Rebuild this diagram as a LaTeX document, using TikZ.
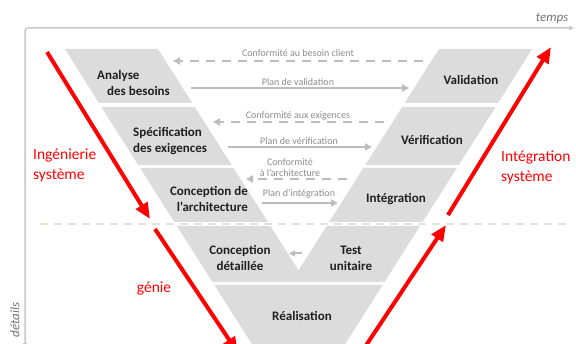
\documentclass[tikz,border=0pt]{standalone}
\usepackage{fontspec}
\setmainfont{Carlito}
\usetikzlibrary{arrows.meta}
\definecolor{blockgray}{HTML}{DCDCDC}
\definecolor{arrowgray}{HTML}{BDBDBD}
\definecolor{notegray}{HTML}{8C8C8C}
\definecolor{axisgray}{HTML}{C8C8C8}
\definecolor{sepgray}{HTML}{E4E4D6}
\definecolor{vred}{HTML}{FF0000}
\tikzset{
  blk/.style={fill=blockgray, draw=none},
  lbl/.style={font=\bfseries\fontsize{13}{16}\selectfont, text=black!88, inner sep=0pt},
  note/.style={font=\fontsize{10}{11}\selectfont, text=notegray, inner sep=0pt, align=center},
  garrow/.style={draw=arrowgray, line width=2pt, -{Triangle[length=7pt,width=7pt]}},
  gdash/.style={garrow, dash pattern=on 9pt off 7pt},
  redarrow/.style={draw=vred, line width=4pt, -{Triangle[length=16pt,width=13pt]}},
  redtxt/.style={text=vred, font=\fontsize{15.5}{20}\selectfont, align=left, inner sep=0pt},
  axistxt/.style={text=black!55, font=\itshape\fontsize{13}{15}\selectfont, inner sep=0pt},
  axisline/.style={draw=axisgray, line width=1.5pt}
}
\begin{document}
\begin{tikzpicture}[x=1pt,y=-1pt]
\useasboundingbox (0,0) rectangle (576,344);
\begin{scope}
\clip (0,0) rectangle (576,344);
% axes
\coordinate (axb) at (25,349);
\coordinate (axc) at (25,28);
\coordinate (axe) at (575,28);
\draw[axisline, rounded corners=3pt, {Latex[length=6pt,width=5pt]}-{Latex[length=6pt,width=5pt]}] (axb) -- (axc) -- (axe);
\node[axistxt] (temps) at (552,18) {temps};
\node[axistxt, rotate=90] (details) at (15,320) {détails};

% left bands
\fill[blk] (65,49) -- (158,49) -- (192.3,103) -- (98.8,103) -- cycle;
\fill[blk] (101.3,107) -- (194.8,107) -- (231.7,165) -- (138.2,165) -- cycle;
\fill[blk] (140.1,168) -- (233.6,168) -- (267.9,222) -- (174.4,222) -- cycle;
% right bands
\fill[blk] (439,49) -- (532,49) -- (498.2,103) -- (404.7,103) -- cycle;
\fill[blk] (402.2,107) -- (495.7,107) -- (458.8,165) -- (365.3,165) -- cycle;
\fill[blk] (363.4,168) -- (456.9,168) -- (422.6,222) -- (329.1,222) -- cycle;
% V bottom band
\fill[blk] (176.9,226) -- (270.4,226) -- (298.5,270.3) -- (326.6,226) -- (420.1,226) -- (384.5,282) -- (212.5,282) -- cycle;
% bottom band
\fill[blk] (214.4,285) -- (382.6,285) -- (335,360) -- (262,360) -- cycle;

% separator
\coordinate (sepl) at (40,224);
\coordinate (sepr) at (570,224);
\draw[sepgray, line width=1.5pt, dash pattern=on 8pt off 6pt] (sepl) -- (sepr);

% block labels
\node[lbl, anchor=west, align=left] (ana) at (97,83) {Analyse\\\hspace*{10pt}des besoins};
\node[lbl, anchor=west, align=left] (spec) at (133,141.5) {Spécification\\des exigences};
\node[lbl, anchor=east, align=right] (carch) at (248,199) {Conception de\\l’architecture};
\node[lbl, align=center] (cdet) at (240,258) {Conception\\détaillée};
\node[lbl] (real) at (302,316) {Réalisation};
\node[lbl, align=center] (tu) at (351,258) {Test\\unitaire};
\node[lbl] (integ) at (396,199) {Intégration};
\node[lbl] (verif) at (432,140) {Vérification};
\node[lbl] (valid) at (471,80) {Validation};

% middle arrows
\coordinate (a1s) at (423,61); \coordinate (a1e) at (173,61);
\draw[gdash] (a1s) -- (a1e);
\node[note] (t1) at (298,53) {Conformité au besoin client};
\coordinate (a2s) at (191,88); \coordinate (a2e) at (409,88);
\draw[garrow] (a2s) -- (a2e);
\node[note] (t2) at (298,82) {Plan de validation};
\coordinate (a3s) at (384,122); \coordinate (a3e) at (213,122);
\draw[gdash] (a3s) -- (a3e);
\node[note] (t3) at (298,116) {Conformité aux exigences};
\coordinate (a4s) at (228,147); \coordinate (a4e) at (372,147);
\draw[garrow] (a4s) -- (a4e);
\node[note] (t4) at (299,141.5) {Plan de vérification};
\coordinate (a5s) at (347,179); \coordinate (a5e) at (246,179);
\draw[gdash] (a5s) -- (a5e);
\node[note] (t5) at (290,168) {Conformité\\à l’architecture};
\coordinate (a6s) at (262,203); \coordinate (a6e) at (338,203);
\draw[garrow] (a6s) -- (a6e);
\node[note] (t6) at (299,194) {Plan d’intégration};
\coordinate (a7s) at (302,253.5); \coordinate (a7e) at (289,253.5);
\draw[garrow, -{Triangle[length=6pt,width=6pt]}] (a7s) -- (a7e);

% red arrows
\coordinate (r1s) at (47,52); \coordinate (r1e) at (150,219);
\draw[redarrow] (r1s) -- (r1e);
\coordinate (r2s) at (155,229); \coordinate (r2e) at (238,353);
\draw[redarrow] (r2s) -- (r2e);
\coordinate (r3s) at (363,350); \coordinate (r3e) at (446,225);
\draw[redarrow] (r3s) -- (r3e);
\coordinate (r4s) at (448,215); \coordinate (r4e) at (551,47);
\draw[redarrow] (r4s) -- (r4e);

% red labels
\node[redtxt, anchor=west] (is) at (33,165.5) {Ingénierie\\système};
\node[redtxt, anchor=west] (ints) at (501,167.5) {Intégration\\système};
\node[redtxt] (genie) at (154,289) {génie};
\end{scope}
\end{tikzpicture}
\end{document}
